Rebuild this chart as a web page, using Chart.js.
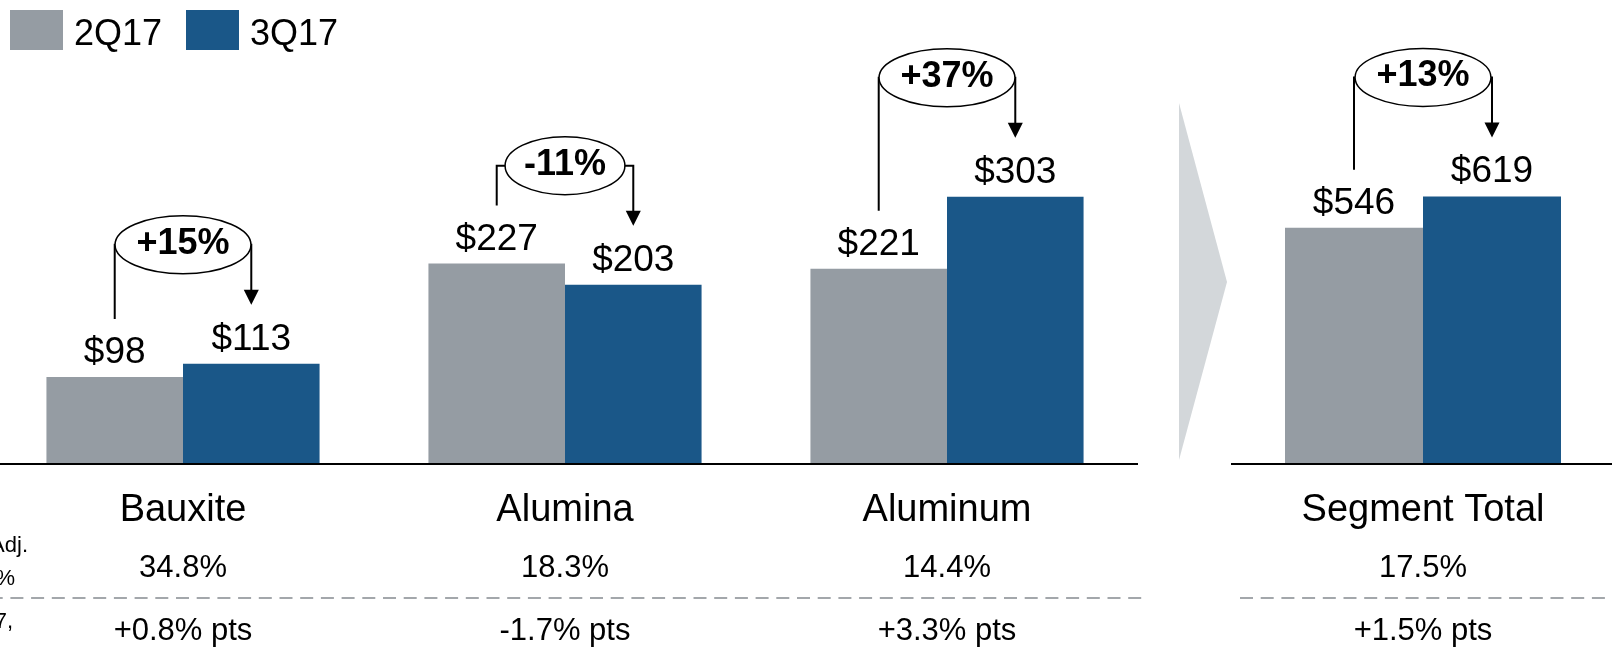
<!DOCTYPE html>
<html>
<head>
<meta charset="utf-8">
<script src="https://cdn.jsdelivr.net/npm/chart.js@4.4.1/dist/chart.umd.min.js"></script>
<style>
  body { margin: 0; width: 1612px; height: 651px; overflow: hidden; background: #fff; position: relative; }
  #left { position: absolute; left: -8px; top: 0; }
  #right { position: absolute; left: 1230px; top: 0; }
</style>
</head>
<body>
<canvas id="left" width="1240" height="651"></canvas>
<canvas id="right" width="386" height="651"></canvas>
<script>
// segment data ($M, Adj. EBITDA)
var segments = ['Bauxite', 'Alumina', 'Aluminum'];
var q2 = [98, 227, 221];
var q3 = [113, 203, 303];
var changes = ['+15%', '-11%', '+37%'];
var margins = ['34.8%', '18.3%', '14.4%'];
var marginChange = ['+0.8% pts', '-1.7% pts', '+3.3% pts'];

var totalLabel = ['Segment Total'];
var totalQ2 = [546];
var totalQ3 = [619];
var totalChange = ['+13%'];
var totalMargin = ['17.5%'];
var totalMarginChange = ['+1.5% pts'];

var seriesNames = ['2Q17', '3Q17'];
var rowHeaders = ['Segment Adj.', 'EBITDA Margin %', 'Change vs. 2Q17,'];

var FONT = "'Liberation Sans', Arial, sans-serif";
var GRAY = '#959ca3';
var BLUE = '#1a5788';

function drawBracket(ctx, gx, gy, bx, by, text) {
  ctx.font = 'bold 36px ' + FONT;
  var w = ctx.measureText(text).width;
  var rx = w * 0.73, ry = 29;
  var cx = (gx + bx) / 2, cy = by - 119;
  var tip = by - 59;
  ctx.strokeStyle = '#000';
  ctx.lineWidth = 2;
  ctx.beginPath();
  ctx.moveTo(gx, gy - 58);
  ctx.lineTo(gx, cy);
  ctx.lineTo(cx - rx, cy);
  ctx.moveTo(cx + rx, cy);
  ctx.lineTo(bx, cy);
  ctx.lineTo(bx, tip - 14);
  ctx.stroke();
  ctx.fillStyle = '#000';
  ctx.beginPath();
  ctx.moveTo(bx - 7.5, tip - 15);
  ctx.lineTo(bx + 7.5, tip - 15);
  ctx.lineTo(bx, tip);
  ctx.closePath();
  ctx.fill();
  ctx.beginPath();
  ctx.ellipse(cx, cy, rx, ry, 0, 0, Math.PI * 2);
  ctx.fillStyle = '#fff';
  ctx.fill();
  ctx.lineWidth = 1.5;
  ctx.stroke();
  ctx.fillStyle = '#000';
  ctx.textAlign = 'center';
  ctx.textBaseline = 'middle';
  ctx.fillText(text, cx, cy - 1);
}

function segmentPlugin(chg, marg, margChg, extras) {
  return {
    id: 'segmentText',
    afterDatasetsDraw: function(chart) {
      var ctx = chart.ctx, area = chart.chartArea;
      var xs = chart.scales.x;
      var m0 = chart.getDatasetMeta(0), m1 = chart.getDatasetMeta(1);
      ctx.save();

      // axis line
      ctx.strokeStyle = '#000';
      ctx.lineWidth = 2;
      ctx.beginPath();
      ctx.moveTo(area.left + extras.baseStart, area.bottom + 1);
      ctx.lineTo(area.right, area.bottom + 1);
      ctx.stroke();

      // dashed separator
      ctx.strokeStyle = '#a3a7ab';
      ctx.setLineDash([13, 7.7]);
      ctx.lineDashOffset = extras.dashOffset;
      ctx.beginPath();
      ctx.moveTo(extras.dashFrom, 598);
      ctx.lineTo(extras.dashTo, 598);
      ctx.stroke();
      ctx.setLineDash([]);

      ctx.fillStyle = '#000';
      ctx.textAlign = 'center';
      ctx.textBaseline = 'alphabetic';
      chart.data.labels.forEach(function(lbl, i) {
        var b0 = m0.data[i], b1 = m1.data[i];
        ctx.font = '37px ' + FONT;
        ctx.fillText('$' + chart.data.datasets[0].data[i], b0.x, b0.y - 14);
        ctx.fillText('$' + chart.data.datasets[1].data[i], b1.x, b1.y - 14);
        var cx = xs.getPixelForValue(i);
        ctx.font = '38px ' + FONT;
        ctx.fillText(lbl, cx, 521);
        ctx.font = '31px ' + FONT;
        ctx.fillText(marg[i], cx, 577);
        ctx.fillText(margChg[i], cx, 640);
      });

      chart.data.labels.forEach(function(lbl, i) {
        var b0 = m0.data[i], b1 = m1.data[i];
        drawBracket(ctx, b0.x, b0.y, b1.x, b1.y, chg[i]);
      });

      if (extras.decor) extras.decor(ctx);
      ctx.restore();
    }
  };
}

function barChart(id, labels, a, b, max, plugin) {
  return new Chart(document.getElementById(id), {
    type: 'bar',
    data: {
      labels: labels,
      datasets: [
        { label: seriesNames[0], data: a, backgroundColor: GRAY, barPercentage: 1, categoryPercentage: 0.715 },
        { label: seriesNames[1], data: b, backgroundColor: BLUE, barPercentage: 1, categoryPercentage: 0.715 }
      ]
    },
    options: {
      responsive: false,
      animation: false,
      devicePixelRatio: 1,
      layout: { padding: { left: 0, top: 0, right: id === 'left' ? 94 : 0, bottom: 188 } },
      scales: {
        x: { display: false },
        y: { display: false, min: 0, max: max }
      },
      plugins: { legend: { display: false }, tooltip: { enabled: false } }
    },
    plugins: [plugin]
  });
}

// left canvas sits 8px left of the page
var leftDecor = function(ctx) {
  // legend
  ctx.textAlign = 'left';
  ctx.textBaseline = 'alphabetic';
  ctx.font = '36px ' + FONT;
  ctx.fillStyle = GRAY;
  ctx.fillRect(18, 10, 53, 40);
  ctx.fillStyle = BLUE;
  ctx.fillRect(194, 10, 53, 40);
  ctx.fillStyle = '#000';
  ctx.fillText(seriesNames[0], 82, 45);
  ctx.fillText(seriesNames[1], 258, 45);

  // clipped row headers
  ctx.textAlign = 'right';
  ctx.font = '22px ' + FONT;
  ctx.fillText(rowHeaders[0], 36, 552);
  ctx.fillText(rowHeaders[1], 23, 585);
  ctx.fillText(rowHeaders[2], 21, 628);

  // chevron
  ctx.fillStyle = '#d3d7da';
  ctx.beginPath();
  ctx.moveTo(1187, 103);
  ctx.lineTo(1235, 282);
  ctx.lineTo(1187, 460);
  ctx.closePath();
  ctx.fill();
};

barChart('left', segments, q2, q3, 527,
  segmentPlugin(changes, margins, marginChange,
    { baseStart: 8, dashFrom: 8, dashTo: 1150, dashOffset: 10.3, decor: leftDecor }));

barChart('right', totalLabel, totalQ2, totalQ3, 1075,
  segmentPlugin(totalChange, totalMargin, totalMarginChange,
    { baseStart: 1, dashFrom: 10, dashTo: 386, dashOffset: 0 }));
</script>
</body>
</html>
